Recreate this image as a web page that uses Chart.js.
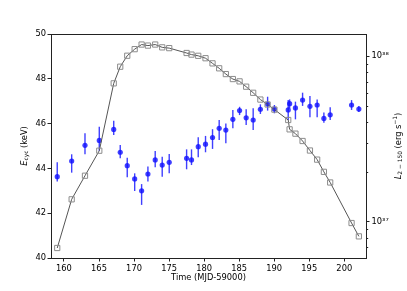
<!DOCTYPE html>
<html><head><meta charset="utf-8">
<script src="https://cdn.jsdelivr.net/npm/chart.js@4/dist/chart.umd.min.js"></script>
<style>html,body{margin:0;padding:0;background:#fff}#wrap{width:407px;height:291px}</style>
</head><body><div id="wrap"><canvas id="c" width="407" height="291"></canvas></div>
<script>
// Observation times (MJD-59000)
const times = [159.04,161.1,163.0,165.04,167.1,168.03,169.03,170.09,171.08,171.98,173.02,174.02,175.02,177.5,178.2,179.16,180.2,181.2,182.15,183.1,184.1,185.06,186.0,187.0,188.03,189.06,190.03,192.0,192.2,193.03,194.05,195.1,196.13,197.09,197.99,201.04,202.08];
// Cyclotron line energy (keV)
const ecyc = [43.63,44.33,45.03,45.25,45.74,44.72,44.12,43.53,43.0,43.75,44.38,44.15,44.27,44.45,44.38,44.97,45.08,45.38,45.79,45.71,46.19,46.58,46.26,46.16,46.64,46.87,46.65,46.61,46.89,46.70,47.05,46.77,46.83,46.23,46.39,46.83,46.65];
const ecycLow = [43.41,43.81,44.63,44.79,45.49,44.45,43.60,42.99,42.37,43.41,44.05,43.63,43.78,43.96,44.15,44.50,44.72,44.87,45.27,45.12,45.79,46.38,45.94,45.71,46.43,46.58,46.46,46.16,46.68,46.19,46.79,46.28,46.28,46.04,46.16,46.61,46.52];
const ecycHigh = [44.27,44.63,45.57,45.86,46.13,45.04,44.48,43.78,43.30,44.08,44.78,44.52,44.64,44.85,44.85,45.39,45.45,45.75,46.16,46.01,46.61,46.75,46.64,46.68,46.86,47.20,46.83,47.05,47.08,46.98,47.38,47.23,47.08,46.49,46.73,47.05,46.79];
// 2-150 keV luminosity (erg/s)
const lum = [6.94e36,1.365e37,1.895e37,2.683e37,6.84e37,8.62e37,1.004e38,1.10e38,1.173e38,1.156e38,1.173e38,1.128e38,1.116e38,1.043e38,1.020e38,1.003e38,9.70e37,9.03e37,8.43e37,7.78e37,7.26e37,7.03e37,6.53e37,6.00e37,5.46e37,5.10e37,4.75e37,4.11e37,3.61e37,3.40e37,3.07e37,2.69e37,2.37e37,2.00e37,1.725e37,9.82e36,8.16e36];

const xTicks = [160,165,170,175,180,185,190,195,200];
const yTicks = [40,42,44,46,48,50];
const lumMajorTicks = [1e37,1e38];
const lumMinorTicks = [7e36,8e36,9e36,2e37,3e37,4e37,5e37,6e37,7e37,8e37,9e37];
const lumTickLabels = {'1e+37':'10³⁷','1e+38':'10³⁸'};

const FAM = '"DejaVu Sans", sans-serif';
const FONT = {family: FAM, size: 8.3};
const BLUE = 'rgba(15,15,255,0.8)';
const AX = '#222';

const errorBars = {
  id: 'errorBars',
  beforeDatasetsDraw(chart) {
    const c = chart.ctx, xs = chart.scales.x, ys = chart.scales.y;
    c.save();
    c.strokeStyle = BLUE; c.lineWidth = 1.4;
    for (let i = 0; i < times.length; i++) {
      const px = xs.getPixelForValue(times[i]);
      c.beginPath();
      c.moveTo(px, ys.getPixelForValue(ecycLow[i]));
      c.lineTo(px, ys.getPixelForValue(ecycHigh[i]));
      c.stroke();
    }
    c.restore();
  }
};

function drawRich(c, x, y, parts, rot) {
  c.save();
  c.translate(x, y);
  c.rotate(rot);
  c.textBaseline = 'middle';
  c.textAlign = 'left';
  c.fillStyle = '#000';
  let w = 0;
  for (const p of parts) { c.font = p.f; p.w = c.measureText(p.t).width; w += p.w; }
  let cx = -w / 2;
  for (const p of parts) { c.font = p.f; c.fillText(p.t, cx, p.dy); cx += p.w; }
  c.restore();
}

const frame = {
  id: 'frame',
  afterDraw(chart) {
    const c = chart.ctx, a = chart.chartArea, y1 = chart.scales.y1;
    c.save();
    c.strokeStyle = AX; c.lineWidth = 1;
    c.strokeRect(Math.round(a.left) + 0.5, Math.round(a.top) + 0.5, Math.round(a.right - a.left), Math.round(a.bottom - a.top));
    // minor ticks on log axis
    c.beginPath();
    for (const v of lumMinorTicks) {
      const py = Math.round(y1.getPixelForValue(v)) + 0.5;
      c.moveTo(a.right, py); c.lineTo(a.right + 2.2, py);
    }
    c.stroke();
    c.restore();
    const N = '8.3px ' + FAM, I = 'italic 8.3px ' + FAM, S = '5.9px ' + FAM;
    drawRich(c, 25, (a.top + a.bottom) / 2, [
      {t:'E', f:I, dy:0}, {t:'cyc', f:S, dy:1.9}, {t:' (keV)', f:N, dy:0}
    ], -Math.PI / 2);
    drawRich(c, 398.5, (a.top + a.bottom) / 2, [
      {t:'L', f:I, dy:0}, {t:'2 − 150', f:S, dy:1.9}, {t:' (erg s', f:N, dy:0}, {t:'−1', f:S, dy:-2.8}, {t:')', f:N, dy:0}
    ], -Math.PI / 2);
    drawRich(c, (a.left + a.right) / 2, 278, [{t:'Time (MJD-59000)', f:N, dy:0}], 0);
  }
};

new Chart(document.getElementById('c'), {
  type: 'scatter',
  data: {
    datasets: [
      {
        type: 'line', label: 'L', yAxisID: 'y1', order: 0,
        data: times.map((t, i) => ({x: t, y: lum[i]})),
        borderColor: '#555', borderWidth: 1, tension: 0, fill: false, showLine: true,
        pointStyle: 'rect', pointRadius: 3.7, pointBorderColor: '#8c8c8c',
        pointBackgroundColor: 'rgba(0,0,0,0)', pointBorderWidth: 1
      },
      {
        type: 'scatter', label: 'E', yAxisID: 'y', order: 1,
        data: times.map((t, i) => ({x: t, y: ecyc[i]})),
        pointRadius: 2.6, pointBackgroundColor: BLUE, pointBorderWidth: 0
      }
    ]
  },
  options: {
    responsive: false, animation: false, devicePixelRatio: 1, events: [],
    layout: {padding: {top: 34, left: 0, right: 0, bottom: 0}},
    plugins: {legend: {display: false}, tooltip: {enabled: false}},
    scales: {
      x: {
        type: 'linear', position: 'bottom', min: 158.15, max: 203.1,
        afterBuildTicks: s => { s.ticks = xTicks.map(v => ({value: v})); },
        afterFit: s => { s.height = 33; },
        border: {display: false},
        grid: {display: true, drawOnChartArea: false, tickLength: 3.5, tickColor: AX, tickWidth: 1},
        ticks: {color: '#000', font: FONT, padding: 2, maxRotation: 0, autoSkip: false}
      },
      y: {
        type: 'linear', position: 'left', min: 40, max: 50,
        afterBuildTicks: s => { s.ticks = yTicks.map(v => ({value: v})); },
        afterFit: s => { s.width = 51; },
        border: {display: false},
        grid: {display: true, drawOnChartArea: false, tickLength: 3.5, tickColor: AX, tickWidth: 1},
        ticks: {color: '#000', font: FONT, padding: 1.5, autoSkip: false}
      },
      y1: {
        type: 'logarithmic', position: 'right', min: 6.04e36, max: 1.358e38,
        afterBuildTicks: s => { s.ticks = lumMajorTicks.map(v => ({value: v})); },
        afterFit: s => { s.width = 41; },
        border: {display: false},
        grid: {display: true, drawOnChartArea: false, tickLength: 3.5, tickColor: AX, tickWidth: 1},
        ticks: {color: '#000', font: FONT, padding: 2, autoSkip: false,
          callback: v => lumTickLabels[String(v)] || ''}
      }
    }
  },
  plugins: [errorBars, frame]
});
</script>
</body></html>
